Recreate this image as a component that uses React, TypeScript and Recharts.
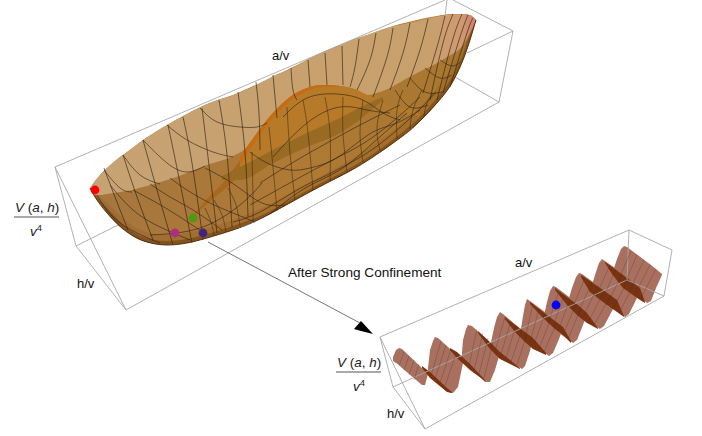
import React from 'react';
import { ComposedChart, XAxis, YAxis, Area, Line, Scatter } from 'recharts';

type Row = number[];

const bigBowl: Row[] = [
  [90, 188, 188], [95, 181, 197], [100, 175, 204], [107, 168, 213], [120, 157, 227], [127, 152, 232],
  [143, 140, 241], [167, 125, 245], [187, 114, 243], [207, 104, 238], [233, 95, 230], [260, 83, 219],
  [297, 65, 199], [323, 52, 185], [350, 41, 171], [373, 33, 157], [400, 24, 138], [417, 20, 124],
  [437, 16, 103], [452, 14, 83], [463, 14, 60], [470, 15, 40], [476, 20, 20],
];
const lightWall: Row[] = [
  [90, 188, 188], [95, 181, 195], [100, 175, 195], [107, 168, 194], [120, 157, 192], [127, 152, 191],
  [143, 140, 187], [167, 125, 180], [187, 114, 173], [207, 104, 165], [233, 95, 156], [248, 89, 146],
  [257, 85, 133], [273, 76, 113], [290, 69, 97], [307, 60, 88], [323, 52, 85], [340, 45, 86],
  [357, 38, 90], [367, 35, 95], [380, 30, 92], [413, 22, 75], [447, 15, 57], [463, 14, 45], [470, 15, 33], [476, 20, 20],
];
const humpBody: Row[] = [
  [240, 158, 170], [257, 133, 160], [273, 113, 150], [290, 97, 141], [307, 88, 133], [323, 85, 125],
  [340, 86, 118], [357, 90, 109], [373, 98, 100], [390, 107, 110], [407, 109, 113], [420, 114, 116],
];
const humpEdge: Row[] = [
  [240, 157, 165], [257, 133, 139], [273, 113, 118], [290, 97, 101], [307, 88, 91], [323, 85, 87], [340, 86, 87],
];
const darkBand: Row[] = [
  [222, 176, 180], [240, 167, 180], [273, 150, 163], [307, 133, 147], [340, 118, 133], [363, 106, 117], [383, 97, 100],
];
const orangeWedge: Row[] = [
  [195, 213, 215], [207, 199, 204], [220, 186, 193], [240, 160, 176],
];
const bottomShade: Row[] = [
  [92, 191, 193], [107, 203, 213], [127, 222, 232], [143, 231, 241], [167, 235, 245], [187, 233, 243],
  [207, 228, 238], [233, 220, 230], [260, 209, 219], [297, 189, 199], [323, 175, 185], [350, 160, 171],
  [373, 145, 157], [400, 125, 138], [417, 110, 124], [437, 88, 103], [452, 66, 83], [463, 44, 60], [470, 28, 40], [476, 20, 20],
];
const bottomDeep: Row[] = [
  [95, 195, 197], [107, 208, 213], [127, 228, 232], [143, 237, 241], [167, 241, 245], [187, 239, 243],
  [207, 234, 238], [233, 226, 230], [260, 216, 219], [297, 196, 199], [323, 182, 185], [350, 168, 171],
  [373, 154, 157], [400, 134, 138], [417, 120, 124], [437, 98, 103], [452, 77, 83], [463, 54, 60], [470, 34, 40], [476, 20, 20],
];
const bowlEdge: number[][] = [
  [90, 188], [95, 197], [107, 213], [127, 232], [147, 242], [167, 245], [187, 243], [207, 238], [233, 230],
  [260, 219], [297, 199], [323, 185], [350, 171], [373, 157], [400, 138], [417, 124], [437, 103], [452, 83], [463, 60], [470, 40], [476, 20],
];

const rimLines: number[][][] = [
  [[104, 168], [115, 197], [128, 230]],
  [[123, 155], [137, 197], [153, 240]],
  [[143, 140], [157, 190], [173, 245]],
  [[168, 125], [178, 173], [192, 243]],
  [[183, 117], [192, 163], [203, 240]],
  [[202, 108], [208, 157], [217, 233]],
  [[219, 100], [227, 155], [232, 227]],
  [[238, 92], [245, 152], [248, 217]],
  [[256, 82], [259, 113], [260, 150]],
  [[273, 75], [275, 97], [277, 118]],
  [[291, 68], [293, 90], [297, 100]],
  [[308, 60], [310, 87]],
  [[325, 53], [327, 85]],
  [[342, 46], [343, 85]],
  [[359, 39], [355, 67], [350, 87]],
  [[376, 33], [370, 60], [357, 90]],
  [[393, 28], [387, 57], [373, 97]],
  [[410, 23], [403, 53], [390, 90]],
  [[428, 19], [420, 50], [407, 87]],
  [[445, 16], [437, 47], [423, 93]],
  [[453, 14], [443, 43], [430, 100]],
  [[462, 14], [452, 42], [437, 100]],
  [[468, 15], [460, 37], [443, 93]],
  [[473, 18], [467, 33], [450, 87]],
];
const lowerLines: number[][][] = [
  [[252, 152], [253, 200], [253, 222]],
  [[269, 127], [273, 167], [277, 211]],
  [[287, 107], [290, 153], [295, 200]],
  [[303, 100], [308, 133], [313, 190]],
  [[325, 97], [330, 133], [330, 181]],
  [[343, 97], [343, 133], [347, 172]],
  [[363, 100], [360, 133], [363, 162]],
  [[383, 100], [377, 127], [380, 151]],
  [[403, 90], [397, 110], [397, 139]],
  [[422, 90], [413, 110], [410, 129]],
  [[433, 93], [427, 103], [424, 116]],
  [[228, 188], [236, 205], [240, 226]],
  [[214, 200], [222, 215], [226, 232]],
  [[205, 208], [211, 222], [214, 235]],
];
const arcLines: number[][][] = [
  [[200, 108], [217, 122], [240, 127], [257, 127], [267, 123]],
  [[167, 125], [187, 140], [213, 152], [233, 157]],
  [[143, 140], [167, 163], [187, 172], [205, 166]],
  [[123, 155], [140, 175], [160, 184]],
  [[104, 170], [120, 188], [132, 192]],
  [[97, 195], [113, 217], [137, 233], [160, 243]],
  [[110, 185], [133, 210], [160, 227], [190, 240]],
  [[133, 190], [157, 203], [180, 217], [207, 235]],
  [[150, 184], [170, 197], [193, 210], [222, 230]],
  [[170, 178], [187, 190], [210, 203], [233, 213], [255, 222]],
  [[205, 168], [235, 185], [262, 203], [285, 205]],
  [[250, 152], [267, 163], [290, 170], [310, 168], [333, 160], [357, 143], [377, 130], [397, 123], [420, 110]],
  [[283, 117], [307, 98], [337, 94], [363, 100], [383, 113], [400, 120]],
  [[273, 157], [307, 123], [340, 107], [367, 110], [390, 113]],
  [[260, 183], [297, 160], [327, 143], [360, 125], [400, 105]],
  [[270, 214], [307, 187], [340, 170], [373, 143], [407, 113]],
  [[150, 235], [200, 228], [240, 205], [262, 183]],
  [[233, 222], [260, 212], [297, 190], [323, 177], [350, 163], [373, 149], [397, 130], [420, 109], [436, 92]],
  [[250, 205], [297, 179], [323, 165], [350, 151], [373, 137], [397, 118], [420, 97]],
  [[395, 90], [410, 107], [428, 105]],
  [[410, 78], [425, 92], [442, 92]],
  [[425, 68], [440, 78], [452, 75]],
  [[440, 60], [452, 66], [460, 62]],
];

const boxLines: number[][][] = [
  [[55, 167], [445, 0]],
  [[453, 0], [513, 31]],
  [[513, 31], [499, 102]],
  [[499, 102], [126, 310]],
  [[126, 310], [55, 167]],
  [[55, 167], [76, 246]],
  [[76, 246], [126, 310]],
  [[76, 246], [118, 225]],
  [[447, 0], [445, 16]],
  [[455, 77], [499, 102]],
  [[467, 53], [513, 31]],
  [[380, 337], [629, 230]],
  [[629, 230], [672, 250]],
  [[672, 250], [664, 296]],
  [[664, 296], [425, 429]],
  [[425, 429], [380, 337]],
  [[380, 337], [393, 387]],
  [[393, 387], [425, 429]],
  [[393, 387], [627, 280]],
  [[629, 230], [627, 280]],
  [[627, 280], [664, 296]],
];
const arrowLine: number[][] = [[208, 242], [360, 323]];
const arrowHead: Row[] = [[354, 329, 329], [361, 321, 331], [373, 334, 334]];
const fractionBars: number[][][] = [
  [[14, 217], [59, 217]],
  [[336, 372], [381, 372]],
];

// small surface, last wave first
const waves: Row[][] = [
  [[612, 274, 274], [617, 259, 279], [621, 249, 283], [624, 246, 285], [627, 247, 288], [647, 262, 303], [651, 265, 301], [656, 269, 288], [662, 274, 275]],
  [[590, 292, 292], [595, 275, 296], [599, 263, 299], [602, 259, 301], [605, 261, 303], [625, 275, 317], [629, 278, 314], [636, 283, 300], [641, 288, 289]],
  [[567, 305, 305], [572, 288, 309], [576, 277, 312], [579, 273, 314], [582, 274, 317], [600, 287, 329], [604, 290, 326], [612, 296, 311], [617, 300, 301]],
  [[543, 320, 320], [547, 302, 323], [550, 291, 326], [553, 286, 328], [556, 287, 331], [573, 300, 343], [577, 303, 340], [583, 309, 325], [587, 313, 314]],
  [[520, 335, 335], [523, 316, 338], [525, 305, 339], [527, 299, 341], [530, 301, 343], [549, 315, 356], [553, 318, 353], [559, 323, 339], [563, 327, 328]],
  [[490, 347, 347], [494, 328, 350], [497, 317, 352], [500, 312, 355], [503, 314, 357], [522, 330, 369], [525, 333, 366], [530, 336, 351], [533, 338, 339]],
  [[462, 352, 358], [463, 340, 361], [466, 329, 364], [468, 325, 366], [472, 326, 369], [485, 338, 382], [490, 343, 382], [495, 347, 370], [500, 351, 353]],
  [[428, 368, 373], [430, 350, 375], [433, 341, 378], [435, 337, 380], [438, 338, 383], [448, 347, 392], [453, 352, 393], [458, 356, 387], [463, 360, 363]],
  [[393, 357, 361], [396, 350, 363], [399, 348, 365], [402, 349, 368], [422, 368, 385], [425, 370, 385], [428, 373, 374]],
];
const waveStrips: Row[][] = [
  [[605, 262, 263], [612, 267, 274], [623, 275, 288], [640, 288, 300], [645, 302, 303]],
  [[581, 275, 277], [590, 281, 292], [603, 290, 302], [617, 300, 312], [624, 316, 317]],
  [[555, 288, 290], [567, 297, 305], [578, 305, 316], [587, 313, 323], [598, 328, 329]],
  [[530, 302, 304], [543, 312, 318], [555, 321, 329], [563, 327, 335], [571, 341, 343]],
  [[505, 317, 319], [515, 325, 332], [525, 332, 342], [533, 338, 349], [546, 353, 355]],
  [[478, 331, 333], [490, 342, 349], [500, 352, 359], [510, 360, 364], [520, 368, 369]],
  [[450, 348, 350], [457, 352, 358], [470, 364, 370], [485, 380, 381]],
  [[422, 366, 368], [430, 372, 378], [447, 388, 392], [452, 392, 393]],
];
const waveRibs: number[][][] = [
  [[631, 251], [618, 281]], [[637, 255], [624, 285]], [[644, 260], [630, 289]], [[650, 265], [635, 294]], [[656, 269], [641, 298]],
  [[610, 265], [596, 296]], [[616, 269], [602, 300]], [[622, 274], [607, 305]], [[629, 278], [613, 309]], [[635, 282], [619, 313]],
  [[585, 278], [572, 309]], [[592, 282], [578, 313]], [[598, 286], [583, 317]], [[604, 291], [589, 321]], [[611, 295], [594, 325]],
  [[559, 291], [548, 324]], [[564, 295], [553, 327]], [[570, 299], [558, 331]], [[576, 304], [563, 335]], [[581, 308], [568, 339]],
  [[533, 304], [525, 339]], [[539, 309], [530, 342]], [[545, 313], [534, 345]], [[551, 318], [539, 349]], [[557, 322], [544, 352]],
  [[505, 317], [495, 351]], [[511, 321], [501, 354]], [[516, 325], [506, 358]], [[522, 329], [511, 362]], [[527, 334], [517, 365]],
  [[477, 329], [469, 366]], [[483, 333], [474, 370]], [[488, 338], [479, 374]], [[493, 342], [484, 378]],
  [[441, 341], [431, 376]], [[446, 345], [435, 379]], [[451, 349], [440, 383]], [[456, 354], [445, 386]],
  [[404, 352], [399, 366]], [[409, 356], [404, 370]], [[414, 360], [409, 375]], [[419, 364], [414, 380]],
];

const markers = [
  { x: 95, y: 190, color: '#ff0000' },
  { x: 193, y: 218, color: '#4b9a12' },
  { x: 175, y: 233, color: '#ad2f7f' },
  { x: 203, y: 233, color: '#41257c' },
  { x: 556, y: 305, color: '#0000ff' },
];
const captions = [
  { x: 272, y: 60, text: 'a/v', size: 13 },
  { x: 288, y: 277, text: 'After Strong Confinement', size: 13.6 },
  { x: 515, y: 267, text: 'a/v', size: 13 },
  { x: 77, y: 288, text: 'h/v', size: 13 },
  { x: 387, y: 418, text: 'h/v', size: 13 },
];
const fractions = [
  { x: 15, y: 212, size: 13.5 },
  { x: 337, y: 367, size: 13.5 },
];
const denominators = [
  { x: 30, y: 236, size: 13.5 },
  { x: 353, y: 391, size: 13.5 },
];

const toPoints = (list: number[][]) => list.map(([x, y]) => ({ x, y }));
const toBand = (rows: Row[]) => rows.map(([x, top, bottom]) => ({ x, y: [top, bottom] }));

const FONT = '"Liberation Sans", Arial, sans-serif';

const Caption = ({ cx, cy, payload }: any) => (
  <text x={cx} y={cy} fontFamily={FONT} fontSize={payload.size} fill="#111">{payload.text}</text>
);
const Numerator = ({ cx, cy, payload }: any) => (
  <text x={cx} y={cy} fontFamily={FONT} fontSize={payload.size} fill="#222">
    <tspan fontStyle="italic">V</tspan> (<tspan fontStyle="italic">a</tspan>, <tspan fontStyle="italic">h</tspan>)
  </text>
);
const Denominator = ({ cx, cy, payload }: any) => (
  <text x={cx} y={cy} fontFamily={FONT} fontSize={payload.size} fill="#222" fontStyle="italic">
    v<tspan dy={-5} fontSize={payload.size * 0.7} fontStyle="normal">4</tspan>
  </text>
);
const Marker = ({ cx, cy, payload }: any) => <circle cx={cx} cy={cy} r={4.4} fill={payload.color} />;

const fillBand = (rows: Row[], key: string, fill: string, opacity = 1, curve: any = 'monotone') => (
  <Area
    key={key}
    data={toBand(rows)}
    dataKey="y"
    type={curve}
    fill={fill}
    fillOpacity={opacity}
    stroke="none"
    dot={false}
    activeDot={false}
    isAnimationActive={false}
  />
);
const strokeLine = (list: number[][], key: string, stroke: string, width: number, opacity = 1) => (
  <Line
    key={key}
    data={toPoints(list)}
    dataKey="y"
    type="natural"
    stroke={stroke}
    strokeWidth={width}
    strokeOpacity={opacity}
    dot={false}
    activeDot={false}
    isAnimationActive={false}
  />
);

export default function App() {
  return (
    <div style={{ position: 'absolute', left: 0, top: 0, width: 702, height: 436 }}>
      <ComposedChart width={702} height={436} margin={{ top: 0, right: 0, bottom: 0, left: 0 }}>
        <defs>
          <linearGradient id="wall" x1="0" y1="0" x2="1" y2="0">
            <stop offset="0%" stopColor="#c7a273" />
            <stop offset="88%" stopColor="#c8a06c" />
            <stop offset="96%" stopColor="#d09a72" />
            <stop offset="100%" stopColor="#d0806f" />
          </linearGradient>
          <linearGradient id="bowl" x1="0" y1="0" x2="1" y2="0">
            <stop offset="0%" stopColor="#a5763f" />
            <stop offset="55%" stopColor="#af7a34" />
            <stop offset="100%" stopColor="#a8772f" />
          </linearGradient>
        </defs>
        <XAxis type="number" dataKey="x" domain={[0, 702]} hide />
        <YAxis type="number" dataKey="y" domain={[0, 436]} reversed hide />

        {boxLines.map((l, i) => strokeLine(l, `box${i}`, '#a8a8a8', 0.9))}

        {fillBand(bigBowl, 'bowl', 'url(#bowl)')}
        {fillBand(bottomShade, 'shade', '#8a5518', 0.25)}
        {fillBand(bottomDeep, 'deep', '#6b3c0c', 0.55)}
        {fillBand(lightWall, 'wall', 'url(#wall)')}
        {fillBand(humpBody, 'hump', '#b67a28')}
        {fillBand(orangeWedge, 'wedge', '#a9681e')}
        {fillBand(darkBand, 'band', '#996a22')}
        {fillBand(humpEdge, 'edge', '#c66c12')}

        {rimLines.map((l, i) => strokeLine(l, `rim${i}`, '#2e2010', 0.8, 0.8))}
        {lowerLines.map((l, i) => strokeLine(l, `low${i}`, '#2e2010', 0.7, 0.7))}
        {arcLines.map((l, i) => strokeLine(l, `arc${i}`, '#2e2010', 0.8, 0.75))}
        {strokeLine(bowlEdge, 'rimEdge', '#4a2c10', 0.9)}

        {waves.map((w, i) => fillBand(w, `wave${i}`, '#a9705f', 1, 'linear'))}
        {waveStrips.map((w, i) => fillBand(w, `strip${i}`, '#7a3310', 1, 'linear'))}
        {waveRibs.map((l, i) => strokeLine(l, `rib${i}`, '#4a2a1c', 0.5, 0.55))}

        {strokeLine(arrowLine, 'arrow', '#666', 0.9)}
        {fillBand(arrowHead, 'head', '#000', 1, 'linear')}
        {fractionBars.map((l, i) => strokeLine(l, `bar${i}`, '#555', 1.2))}

        <Scatter data={markers} dataKey="y" shape={<Marker />} isAnimationActive={false} />
        <Scatter data={captions} dataKey="y" shape={<Caption />} isAnimationActive={false} />
        <Scatter data={fractions} dataKey="y" shape={<Numerator />} isAnimationActive={false} />
        <Scatter data={denominators} dataKey="y" shape={<Denominator />} isAnimationActive={false} />
      </ComposedChart>
    </div>
  );
}
